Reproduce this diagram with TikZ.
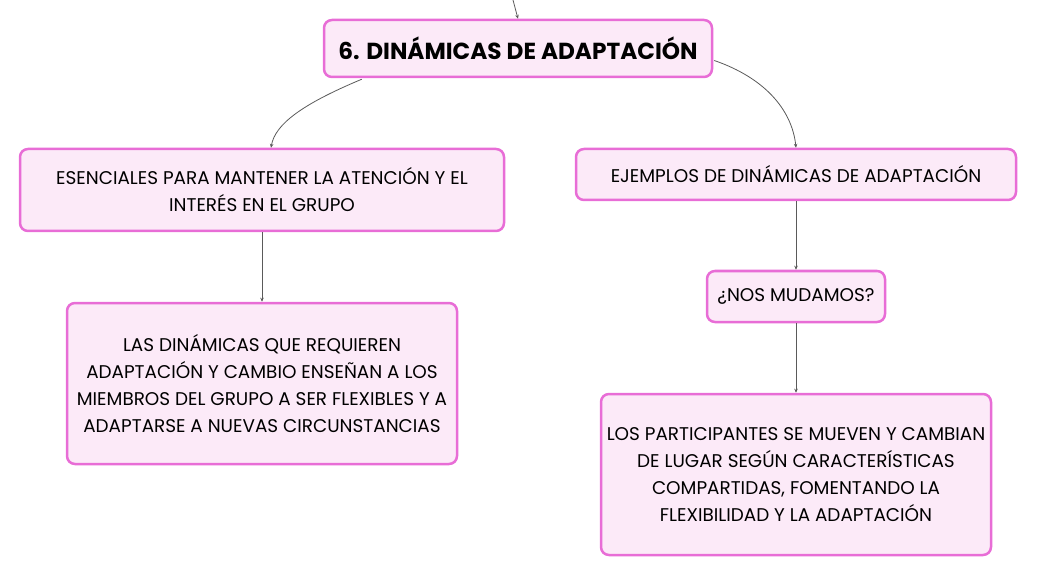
\documentclass[tikz,border=0pt]{standalone}
\usepackage{fontspec}
\setmainfont{Poppins}
\usetikzlibrary{arrows.meta,calc}
\definecolor{pinkB}{HTML}{E86DD6}
\definecolor{pinkF}{HTML}{FCEAF8}
\definecolor{lineG}{HTML}{5A5A5A}
\tikzset{
  box/.style={draw=pinkB,fill=pinkF,line width=2.5pt,rounded corners=8pt,align=center,
    inner sep=0pt,font=\fontsize{18.4}{27}\selectfont},
  titlebox/.style={box,font=\fontsize{23.2}{27}\selectfont\bfseries},
  conn/.style={draw=lineG,line width=0.8pt,-{Stealth[length=4pt,width=3.5pt]}}
}
\begin{document}
\begin{tikzpicture}[x=1pt,y=-1pt]
\useasboundingbox (0,0) rectangle (1038,577);
\node[titlebox,minimum width=388pt,minimum height=57pt] (top) at (518,48.5) {6. DINÁMICAS DE ADAPTACIÓN};
\node[box,minimum width=484pt,minimum height=82pt] (L1) at (262,190) {ESENCIALES PARA MANTENER LA ATENCIÓN Y EL\\INTERÉS EN EL GRUPO};
\node[box,minimum width=390pt,minimum height=161pt] (L2) at (262,383.5) {LAS DINÁMICAS QUE REQUIEREN\\ADAPTACIÓN Y CAMBIO ENSEÑAN A LOS\\MIEMBROS DEL GRUPO A SER FLEXIBLES Y A\\ADAPTARSE A NUEVAS CIRCUNSTANCIAS};
\node[box,minimum width=440pt,minimum height=51pt] (R1) at (796,174.5) {EJEMPLOS DE DINÁMICAS DE ADAPTACIÓN};
\node[box,minimum width=178pt,minimum height=51pt] (R2) at (796,296.5) {¿NOS MUDAMOS?};
\node[box,minimum width=390pt,minimum height=161pt] (R3) at (796,474.5) {LOS PARTICIPANTES SE MUEVEN Y CAMBIAN\\DE LUGAR SEGÚN CARACTERÍSTICAS\\COMPARTIDAS, FOMENTANDO LA\\FLEXIBILIDAD Y LA ADAPTACIÓN};
\coordinate (in) at (513,0);
\draw[conn] (in) .. controls (515,8) .. (top.north);
\draw[conn] ($(top.south west)+(39,1)$) .. controls (300,105) and (275,125) .. ($(L1.north)+(9,0)$);
\draw[conn] ($(top.east)+(1,12)$) .. controls (765,78) and (792,110) .. (R1.north);
\draw[conn] (L1.south) -- (L2.north);
\draw[conn] (R1.south) -- (R2.north);
\draw[conn] (R2.south) -- (R3.north);
\end{tikzpicture}
\end{document}
